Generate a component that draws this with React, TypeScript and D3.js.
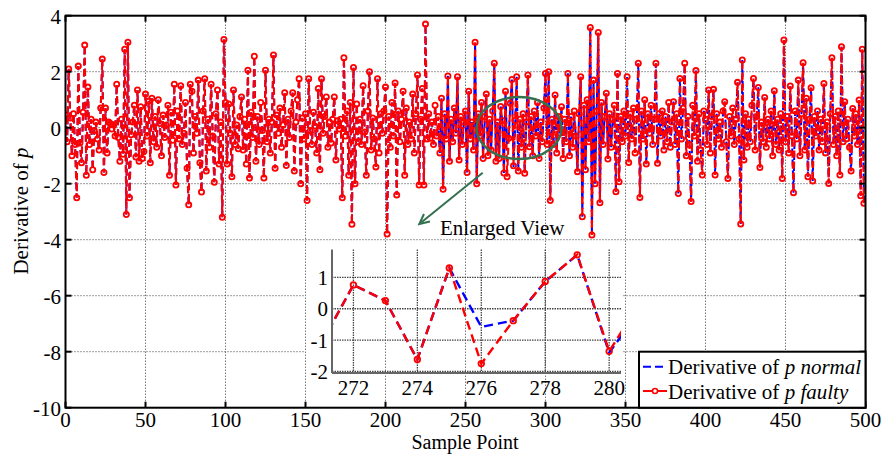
import React from "react";
import * as d3 from "d3";

// Derivative of p (faulty), x = 0..499
const faultyValues: number[] = [
  0.45, -0.5, 2.1, 0.35, -1.0, 0.5, -0.6, -2.5, 2.2, -0.55,
  -1.25, 0.55, 2.95, -1.7, 1.45, -0.6, 0.3, -1.5, -0.1, 0.2,
  -0.4, -0.8, 0.7, 2.45, -1.6, 0.7, -0.9, 0.2, 0.15, -0.05,
  0.1, -0.3, 1.55, -0.35, -1.2, 0.3, -0.95, 2.8, -3.1, 3.05,
  -2.5, -0.25, 0.2, 0.8, -1.05, 1.35, -1.2, 0.75, -1.1, -0.85,
  1.2, -0.3, 0.95, -1.25, 1.05, -0.5, 0.4, -0.7, 1.0, 0.15,
  -1.0, 0.45, -0.35, 0.1, 0.8, -1.7, 0.55, -0.45, 1.55, -2.05,
  0.6, -0.4, 1.5, -0.6, -0.2, 0.9, -1.45, -2.75, 1.55, 1.3,
  -0.9, 0.4, -0.2, 1.7, -1.25, -2.3, 0.6, 1.75, -1.55, 0.3,
  -0.7, 1.55, -0.3, -1.95, 0.5, 1.35, -1.3, 0.2, -3.2, 3.15,
  0.9, -1.3, 0.85, -0.2, -1.75, 1.35, -0.6, 0.1, -0.75, 0.4,
  1.1, -0.8, 0.3, -1.3, 2.05, -1.8, 0.55, -0.35, 2.55, -1.2,
  0.4, -0.6, 0.9, -0.1, -1.8, 2.05, -0.5, 0.3, -0.9, 0.2,
  2.6, -1.45, 0.45, -0.2, 0.7, -0.7, 0.1, 1.25, -1.35, 0.3,
  -0.35, 0.6, 1.25, -1.55, 0.2, 1.0, 1.75, -2.0, 0.35, -0.4,
  0.5, -2.6, 1.75, -0.1, -0.6, 0.55, 0.05, -0.9, 1.4, -1.5,
  1.75, -0.2, 0.4, 1.1, -0.7, 0.2, -0.55, 0.3, 1.1, -1.15,
  0.25, -0.05, 0.3, -2.5, 2.5, -0.3, 0.6, -1.7, 0.9, -3.45,
  2.15, -2.0, 0.85, -0.5, 0.3, -0.6, 1.5, -0.15, -1.7, 0.6,
  2.0, -0.8, 0.35, -0.4, -1.4, 1.75, -0.9, 0.5, -0.2, 0.6,
  1.45, -3.8, 0.4, -0.7, 0.9, -0.3, 1.6, -2.4, 0.6, -0.5,
  0.3, 1.3, -1.7, 0.7, -0.6, 0.2, -0.4, 1.2, -0.9, 0.5,
  1.88, -2.05, 0.3, 1.4, -2.05, 3.7, -0.4, 0.5, -0.38, 0.2,
  -0.6, 0.8, -0.3, 0.4, -0.9, 1.05, -2.2, 0.5, -0.4, 1.85,
  -1.2, 0.3, -0.5, 0.7, -0.2, 1.82, -1.15, 0.4, -0.6, 0.2,
  0.6, -1.6, 1.3, -0.4, 0.2, -0.8, 3.05, -2.0, 0.5, -0.3,
  0.9, -1.1, 0.4, 1.2, -1.0, 0.3, -0.8, 0.6, 2.3, -1.2,
  0.2, -1.1, 0.76, 0.26, -1.62, 1.3, -1.75, -0.38, 0.87, 1.72,
  -1.36, 0.26, 1.82, -1.55, 0.3, -0.7, 0.5, -1.63, 0.2, 1.88,
  -0.68, 0.4, -1.0, 0.6, -0.3, 0.9, -1.1, 0.2, -0.5, 0.7,
  1.94, -0.6, 2.0, -2.6, 0.3, -0.6, 1.17, -0.9, 0.4, -0.2,
  0.75, -1.1, 0.3, -0.5, 1.94, -1.0, 0.4, -0.7, 0.6, -0.3,
  -1.57, 0.5, 1.82, -3.18, 0.8, -1.5, 1.0, -0.5, 3.58, -3.83,
  1.7, -2.0, 0.6, 3.4, -2.68, 0.9, -0.6, 0.4, 1.23, -1.12,
  0.5, -0.7, 0.3, 0.8, -2.29, 1.94, -1.93, 0.4, -0.5, 0.6,
  -0.3, 1.82, -1.24, 0.5, -0.4, 0.7, -0.9, 0.3, 2.3, -2.49,
  0.6, -0.4, 1.0, -1.3, 0.5, -0.2, 0.8, -0.6, 0.3, 2.3,
  -1.27, 0.5, -0.3, 0.6, -0.8, 0.4, -0.5, 0.9, -0.7, 0.2,
  0.93, -0.6, 0.5, -2.35, 1.76, -0.4, 0.7, 2.3, -1.0, 0.4,
  -0.6, -2.64, 0.8, -0.3, 2.04, -1.2, 0.5, -0.8, -1.69, 0.6,
  0.3, -0.6, 1.35, -0.9, 0.4, 1.37, -1.69, 0.5, -0.4, 0.2,
  -0.7, 0.6, 0.93, -0.5, -1.81, 0.4, -0.3, 0.7, -0.6, 0.3,
  1.62, -0.4, -3.44, 2.42, -1.15, 0.5, -0.7, 0.3, -0.5, 0.8,
  1.76, -0.8, 0.4, 1.44, -1.42, 0.2, -0.5, 1.08, -0.7, 0.3,
  -0.4, 0.6, -1.0, 1.32, -0.6, 0.3, -0.8, 0.5, -1.81, 3.13,
  -0.5, 0.4, -0.9, 1.49, -0.3, -2.32, 0.6, -0.4, 1.7, -1.0,
  0.5, 2.32, -0.8, 1.05, -1.75, 0.3, 1.43, -1.9, 0.4, -0.3,
  0.6, -0.8, 0.3, -0.5, 1.58, -0.9, 0.2, -1.99, 0.5, 2.5,
  -0.6, 0.4, -1.0, 0.6, -1.69, 2.89, -0.5, 0.93, -0.4, 0.3,
  -0.7, -1.55, 0.69, -0.3, 0.5, -0.6, 0.99, -2.43, 2.8, -2.7,
];

// Points where the normal series differs from the faulty one: [x, value]
const normalDifferences: [number, number][] = [
  [212, -1.5], [233, -0.1], [262, 0.15], [276, -0.58], [280, -1.4],
  [281, 0.0], [318, 0.35], [343, 0.55], [398, -1.5], [421, -0.15],
];

const xTicks = [0, 50, 100, 150, 200, 250, 300, 350, 400, 450, 500];
const yTicks = [4, 2, 0, -2, -4, -6, -8, -10];
const insetXTicks = [272, 274, 276, 278, 280];
const insetYTicks = [1, 0, -1, -2];
const insetXDomain = [271.33, 280.37];
const insetYDomain = [-2.05, 1.89];

const FONT = "'Liberation Serif', 'Times New Roman', serif";
const RED = "#ff0000";
const BLUE = "#0000ff";
const GREEN = "#33714f";

export default function App() {
  const normalValues = faultyValues.slice();
  normalDifferences.forEach(([i, v]) => {
    normalValues[i] = v;
  });

  const W = 882;
  const H = 454;
  const x = d3.scaleLinear().domain([0, 500]).range([65.5, 865.5]);
  const y = d3.scaleLinear().domain([-10, 4]).range([407.7, 15.7]);
  const [x0, x1] = x.range();
  const [yb, yt] = y.range();

  const line = d3
    .line<number>()
    .x((_, i) => x(i))
    .y((d) => y(d));

  const xi = d3.scaleLinear().domain(insetXDomain).range([332, 621]);
  const yi = d3.scaleLinear().domain(insetYDomain).range([373, 249.5]);
  const insetIdx = d3.range(271, 282);
  const lineI = (vals: number[]) =>
    d3
      .line<number>()
      .x((i) => xi(i))
      .y((i) => yi(vals[i]))(insetIdx) || "";

  // Legend
  const lgX0 = 639;
  const lgY0 = 351.7;

  // Arrow
  const ax0 = 482.7,
    ay0 = 172.7,
    ax1 = 419.3,
    ay1 = 224;
  const ang = Math.atan2(ay1 - ay0, ax1 - ax0);
  const ahL = 11,
    ahW = 0.45;
  const ahA = [ax1 - ahL * Math.cos(ang - ahW), ay1 - ahL * Math.sin(ang - ahW)];
  const ahB = [ax1 - ahL * Math.cos(ang + ahW), ay1 - ahL * Math.sin(ang + ahW)];

  return (
    <svg
      width={W}
      height={H}
      style={{ position: "absolute", left: 0, top: 0, background: "#fff" }}
      fontFamily={FONT}
    >
      <defs>
        <clipPath id="mainClip">
          <rect x={x0} y={yt} width={x1 - x0} height={yb - yt} />
        </clipPath>
        <clipPath id="insetClip">
          <rect x={332} y={249.5} width={289} height={123.5} />
        </clipPath>
      </defs>
      <rect x={0} y={0} width={W} height={H} fill="#fff" />

      {/* main horizontal grid */}
      {yTicks.map((t) => (
        <line
          key={"hg" + t}
          x1={x0}
          x2={x1}
          y1={y(t)}
          y2={y(t)}
          stroke="#222"
          strokeWidth={0.9}
          strokeDasharray="1,2"
        />
      ))}

      {/* inset background */}
      <rect x={305} y={244} width={318} height={158} fill="#fff" />

      {/* main vertical grid */}
      {xTicks.map((t) => (
        <line
          key={"vg" + t}
          x1={x(t)}
          x2={x(t)}
          y1={yt}
          y2={yb}
          stroke="#222"
          strokeWidth={0.9}
          strokeDasharray="1,2"
        />
      ))}

      {/* main series */}
      <g clipPath="url(#mainClip)">
        <path
          d={line(normalValues) || ""}
          fill="none"
          stroke={BLUE}
          strokeWidth={2}
          strokeDasharray="7,4"
        />
        <path
          d={line(faultyValues) || ""}
          fill="none"
          stroke={RED}
          strokeWidth={2.1}
          strokeDasharray="7,4"
        />
        {faultyValues.map((v, i) => (
          <circle
            key={"m" + i}
            cx={x(i)}
            cy={y(v)}
            r={2.6}
            fill="none"
            stroke={RED}
            strokeWidth={1.8}
          />
        ))}
      </g>

      {/* main frame and ticks */}
      <rect
        x={x0}
        y={yt}
        width={x1 - x0}
        height={yb - yt}
        fill="none"
        stroke="#000"
        strokeWidth={2}
      />
      {xTicks.map((t) => (
        <g key={"xt" + t}>
          <line x1={x(t)} x2={x(t)} y1={yb} y2={yb - 6} stroke="#000" strokeWidth={2} />
          <line x1={x(t)} x2={x(t)} y1={yt} y2={yt + 6} stroke="#000" strokeWidth={2} />
          <text x={x(t)} y={427} fontSize={21} textAnchor="middle" fill="#000">
            {t}
          </text>
        </g>
      ))}
      {yTicks.map((t) => (
        <g key={"yt" + t}>
          <line x1={x0} x2={x0 + 6} y1={y(t)} y2={y(t)} stroke="#000" strokeWidth={2} />
          <line x1={x1} x2={x1 - 6} y1={y(t)} y2={y(t)} stroke="#000" strokeWidth={2} />
          <text
            x={61}
            y={y(t) + 8}
            fontSize={21}
            textAnchor="end"
            fill="#000"
          >
            {t}
          </text>
        </g>
      ))}

      {/* axis labels */}
      <text x={465} y={449} fontSize={20} textAnchor="middle" fill="#000">
        Sample Point
      </text>
      <text
        transform={`translate(28,${211}) rotate(-90)`}
        fontSize={21}
        textAnchor="middle"
        fill="#000"
      >
        Derivative of <tspan fontStyle="italic">p</tspan>
      </text>

      {/* inset */}
      <g>
        {insetXTicks.map((t) => (
          <line
            key={"ivg" + t}
            x1={xi(t)}
            x2={xi(t)}
            y1={249.5}
            y2={373}
            stroke="#444"
            strokeWidth={1.3}
            strokeDasharray="1.5,1"
          />
        ))}
        {insetYTicks.map((t) => (
          <line
            key={"ihg" + t}
            x1={332}
            x2={621}
            y1={yi(t)}
            y2={yi(t)}
            stroke="#444"
            strokeWidth={1.3}
            strokeDasharray="1.5,1"
          />
        ))}
        <g clipPath="url(#insetClip)">
          <path
            d={lineI(normalValues)}
            fill="none"
            stroke={BLUE}
            strokeWidth={2.4}
            strokeDasharray="9,5"
          />
          <path
            d={lineI(faultyValues)}
            fill="none"
            stroke={RED}
            strokeWidth={2.4}
            strokeDasharray="9,5"
          />
          {insetIdx.map((i) => (
            <circle
              key={"im" + i}
              cx={xi(i)}
              cy={yi(faultyValues[i])}
              r={2.8}
              fill="none"
              stroke={RED}
              strokeWidth={1.8}
            />
          ))}
        </g>
        <line x1={332} x2={332} y1={249.5} y2={373} stroke="#666" strokeWidth={2} />
        <line x1={332} x2={621} y1={373} y2={373} stroke="#666" strokeWidth={2} />
        {insetXTicks.map((t) => (
          <text key={"ixl" + t} x={xi(t)} y={395} fontSize={21} textAnchor="middle" fill="#000">
            {t}
          </text>
        ))}
        {insetYTicks.map((t) => (
          <text key={"iyl" + t} x={328} y={yi(t) + 7.5} fontSize={21} textAnchor="end" fill="#000">
            {t}
          </text>
        ))}
      </g>

      {/* annotation */}
      <ellipse
        cx={519}
        cy={128}
        rx={42.5}
        ry={31}
        fill="none"
        stroke={GREEN}
        strokeWidth={2.5}
      />
      <line x1={ax0} y1={ay0} x2={ax1} y2={ay1} stroke={GREEN} strokeWidth={2} />
      <path
        d={`M${ahA[0]},${ahA[1]} L${ax1},${ay1} L${ahB[0]},${ahB[1]}`}
        fill="none"
        stroke={GREEN}
        strokeWidth={2}
      />
      <text x={440} y={235} fontSize={21} fill="#000">
        Enlarged View
      </text>

      {/* legend */}
      <rect
        x={lgX0}
        y={lgY0}
        width={x1 - lgX0}
        height={yb - lgY0}
        fill="#fff"
        stroke="#000"
        strokeWidth={2}
      />
      <line
        x1={643}
        x2={667}
        y1={366.7}
        y2={366.7}
        stroke={BLUE}
        strokeWidth={2}
        strokeDasharray="8,4"
      />
      <text x={668} y={373.5} fontSize={21} fill="#000">
        Derivative of <tspan fontStyle="italic">p normal</tspan>
      </text>
      <line x1={643} x2={667} y1={391} y2={391} stroke={RED} strokeWidth={2} />
      <circle cx={655} cy={391} r={2.5} fill="#fff" stroke={RED} strokeWidth={1.5} />
      <text x={668} y={399} fontSize={21} fill="#000">
        Derivative of <tspan fontStyle="italic">p faulty</tspan>
      </text>
    </svg>
  );
}
